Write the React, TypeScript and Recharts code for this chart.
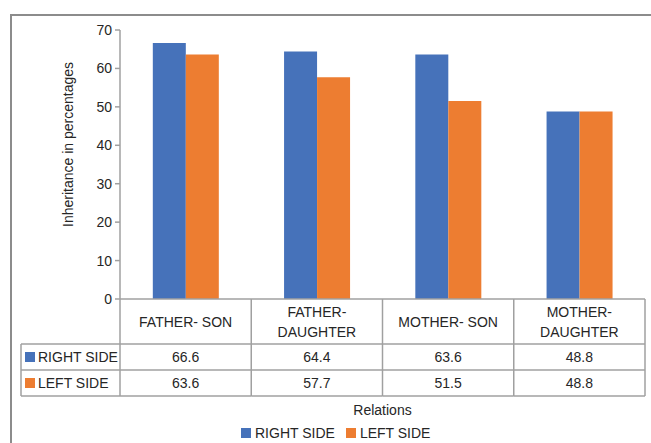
import { BarChart, Bar, XAxis, YAxis, Legend } from 'recharts';

const RELATIONS = ['FATHER- SON', 'FATHER- DAUGHTER', 'MOTHER- SON', 'MOTHER- DAUGHTER'];
const RIGHT_SIDE = [66.6, 64.4, 63.6, 48.8];
const LEFT_SIDE = [63.6, 57.7, 51.5, 48.8];
const Y_TICKS = [0, 10, 20, 30, 40, 50, 60, 70];

const SERIES = [
  { key: 'right', name: 'RIGHT SIDE', color: '#4672BA', values: RIGHT_SIDE },
  { key: 'left', name: 'LEFT SIDE', color: '#ED7D31', values: LEFT_SIDE },
];

const data = RELATIONS.map((relation, i) => ({
  relation,
  right: RIGHT_SIDE[i],
  left: LEFT_SIDE[i],
}));

const FONT = '"Liberation Sans", Arial, sans-serif';
const TEXT = '#262626';
const GRID = '#a0a0a0';

const WIDTH = 651;
const HEIGHT = 443;
const Y_AXIS_W = 120;
const RIGHT_MARGIN = 6;
const BAND = (WIDTH - Y_AXIS_W - RIGHT_MARGIN) / RELATIONS.length;

// table rows under the axis
const HEAD_H = 45;
const ROW_H = 26;
const KEY_LEFT = 21;

function splitLabel(label: string) {
  if (label.length > 12 && label.includes('- ')) {
    const [a, b] = label.split('- ');
    return [a + '-', b];
  }
  return [label];
}

function TableTick(props: any) {
  const { x, y, payload } = props;
  const idx = payload.index as number;
  const left = x - BAND / 2;
  const right = x + BAND / 2;
  const bottom = y + HEAD_H + ROW_H * SERIES.length;
  const lines = splitLabel(payload.value);
  const mid = y + HEAD_H / 2;

  return (
    <g fontFamily={FONT} fontSize={14} fill={TEXT} strokeWidth={1.5}>
      {idx === 0 && (
        <g>
          <line x1={left} y1={y} x2={left} y2={bottom} stroke={GRID} />
          <line x1={KEY_LEFT} y1={y + HEAD_H} x2={KEY_LEFT} y2={bottom} stroke={GRID} />
          {SERIES.map((s, r) => {
            const top = y + HEAD_H + ROW_H * r;
            return (
              <g key={s.key}>
                <line x1={KEY_LEFT} y1={top} x2={left} y2={top} stroke={GRID} />
                <rect x={KEY_LEFT + 4} y={top + ROW_H / 2 - 5} width={10} height={10} fill={s.color} />
                <text x={KEY_LEFT + 17} y={top + ROW_H / 2 + 5} fill={TEXT}>
                  {s.name}
                </text>
              </g>
            );
          })}
          <line x1={KEY_LEFT} y1={bottom} x2={left} y2={bottom} stroke={GRID} />
        </g>
      )}
      <line x1={right} y1={y} x2={right} y2={bottom} stroke={GRID} />
      {lines.map((line, i) => (
        <text
          key={i}
          x={x}
          y={mid + 5 + (i - (lines.length - 1) / 2) * 20}
          textAnchor="middle"
          fill={TEXT}
        >
          {line}
        </text>
      ))}
      {SERIES.map((s, r) => {
        const top = y + HEAD_H + ROW_H * r;
        return (
          <g key={s.key}>
            <line x1={left} y1={top} x2={right} y2={top} stroke={GRID} />
            <text x={x} y={top + ROW_H / 2 + 5} textAnchor="middle" fill={TEXT}>
              {s.values[idx]}
            </text>
          </g>
        );
      })}
      <line x1={left} y1={bottom} x2={right} y2={bottom} stroke={GRID} />
    </g>
  );
}

function YTitle(props: any) {
  const { viewBox } = props;
  const cx = 68;
  const cy = viewBox.y + viewBox.height / 2 - 20;
  return (
    <text
      x={cx}
      y={cy}
      transform={`rotate(-90 ${cx} ${cy})`}
      textAnchor="middle"
      dominantBaseline="central"
      fontFamily={FONT}
      fontSize={14}
      fill={TEXT}
    >
      Inheritance in percentages
    </text>
  );
}

// legend keeps the series order (right side first)
function LegendContent() {
  return (
    <div style={{ display: 'flex', alignItems: 'center', height: 20, fontFamily: FONT, fontSize: 14, color: TEXT }}>
      {SERIES.map((s) => (
        <span key={s.key} style={{ display: 'flex', alignItems: 'center', marginRight: 11 }}>
          <span style={{ width: 10, height: 10, background: s.color, marginRight: 4 }} />
          {s.name}
        </span>
      ))}
    </div>
  );
}

export default function App() {
  return (
    <div
      style={{
        position: 'absolute',
        left: 0,
        top: 0,
        width: WIDTH,
        height: HEIGHT,
        background: '#fff',
        fontFamily: FONT,
      }}
    >
      <div
        style={{
          position: 'absolute',
          left: 10,
          top: 14,
          width: WIDTH - 10,
          height: HEIGHT - 14,
          borderTop: '2px solid #8c8c8c',
          borderLeft: '2px solid #8c8c8c',
          boxSizing: 'border-box',
        }}
      />
      <BarChart
        width={WIDTH}
        height={HEIGHT}
        data={data}
        margin={{ top: 30, right: RIGHT_MARGIN, left: 0, bottom: 0 }}
        barCategoryGap="25%"
        barGap={0}
        style={{ position: 'absolute', left: 0, top: 0 }}
      >
        <YAxis
          width={Y_AXIS_W}
          domain={[0, 70]}
          ticks={Y_TICKS}
          interval={0}
          axisLine={{ stroke: GRID, strokeWidth: 1.5 }}
          tickLine={{ stroke: GRID, strokeWidth: 1.5 }}
          tickSize={5}
          tickMargin={3}
          tick={{ fontSize: 14, fill: TEXT, fontFamily: FONT }}
          label={<YTitle />}
        />
        <XAxis
          dataKey="relation"
          height={124}
          interval={0}
          axisLine={{ stroke: GRID, strokeWidth: 1.5 }}
          tickLine={false}
          tickSize={0}
          tickMargin={0}
          tick={<TableTick />}
          label={{
            value: 'Relations',
            position: 'insideBottom',
            offset: 8,
            fontSize: 14,
            fill: TEXT,
            fontFamily: FONT,
          }}
        />
        <Legend
          verticalAlign="bottom"
          content={<LegendContent />}
          wrapperStyle={{ left: 241, bottom: 0, width: 'auto' }}
        />
        {SERIES.map((s) => (
          <Bar key={s.key} dataKey={s.key} name={s.name} fill={s.color} isAnimationActive={false} />
        ))}
      </BarChart>
    </div>
  );
}
